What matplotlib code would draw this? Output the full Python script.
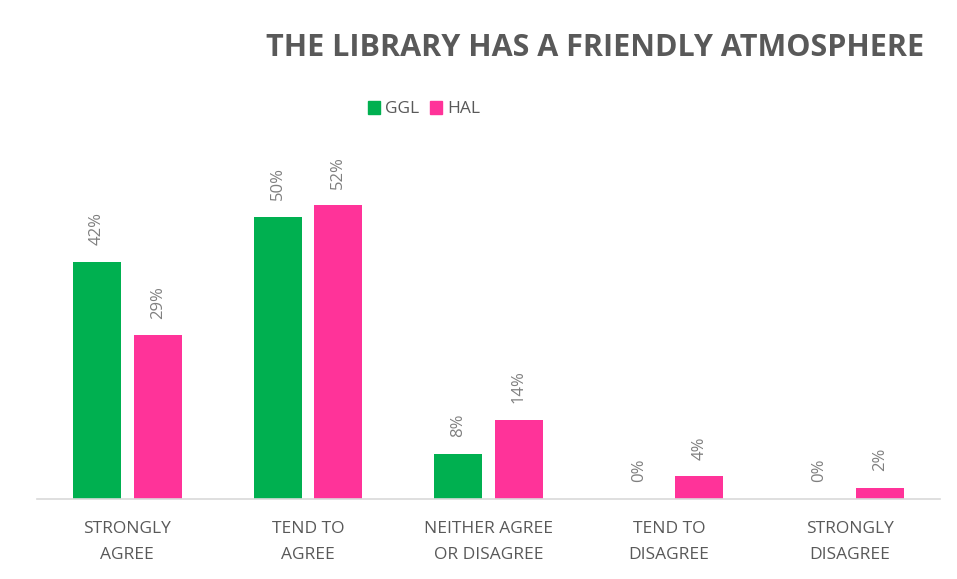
import matplotlib
matplotlib.use("Agg")
import matplotlib.pyplot as plt
import numpy as np
from matplotlib.patches import Patch

categories = ["STRONGLY\nAGREE", "TEND TO\nAGREE", "NEITHER AGREE\nOR DISAGREE", "TEND TO\nDISAGREE", "STRONGLY\nDISAGREE"]
series_names = ["GGL", "HAL"]
ggl = [0.42, 0.50, 0.08, 0.00, 0.00]
hal = [0.29, 0.52, 0.14, 0.04, 0.02]
colors = ["#00B050", "#FF3399"]

plt.rcParams['font.family'] = ['Open Sans', 'DejaVu Sans']

fig = plt.figure(figsize=(9.57, 5.79), dpi=100)
ax = fig.add_axes([37/957, 1 - 499/579, 903/957, 336/579])

x = np.arange(len(categories))
w = 0.266
off = 0.168
for vals, c, o in [(ggl, colors[0], -off), (hal, colors[1], off)]:
    bars = ax.bar(x + o, vals, width=w, color=c, zorder=2)
    for b, v in zip(bars, vals):
        ax.annotate(f"{v*100:.0f}%", (b.get_x() + b.get_width()/2, b.get_height()),
                    xytext=(0, 12), textcoords="offset points", rotation=90,
                    ha="center", va="bottom", fontsize=12, color="#7F7F7F")

ax.set_xlim(-0.5, len(categories) - 0.5)
ax.set_ylim(0, 0.595)
ax.set_yticks([])
for s in ["top", "left", "right"]:
    ax.spines[s].set_visible(False)
ax.spines["bottom"].set_color("#D9D9D9")
ax.spines["bottom"].set_linewidth(1.2)
ax.set_xticks(x)
ax.set_xticklabels(categories, fontsize=12.5, color="#595959", linespacing=1.85)
ax.tick_params(axis="x", length=0, pad=16)

fig.text(595/957, 1 - 48/579, "THE LIBRARY HAS A FRIENDLY ATMOSPHERE", ha="center", va="center",
         fontsize=22, fontweight="bold", color="#595959")

handles = [Patch(color=c, label=n) for c, n in zip(colors, series_names)]
fig.legend(handles=handles, loc="center", bbox_to_anchor=(424/957, 1 - 109/579), ncol=2,
           frameon=False, fontsize=12.5, handlelength=0.7, handleheight=0.8,
           handletextpad=0.3, columnspacing=0.6, labelcolor="#595959")

fig.savefig("out.png", dpi=100, facecolor="white")
